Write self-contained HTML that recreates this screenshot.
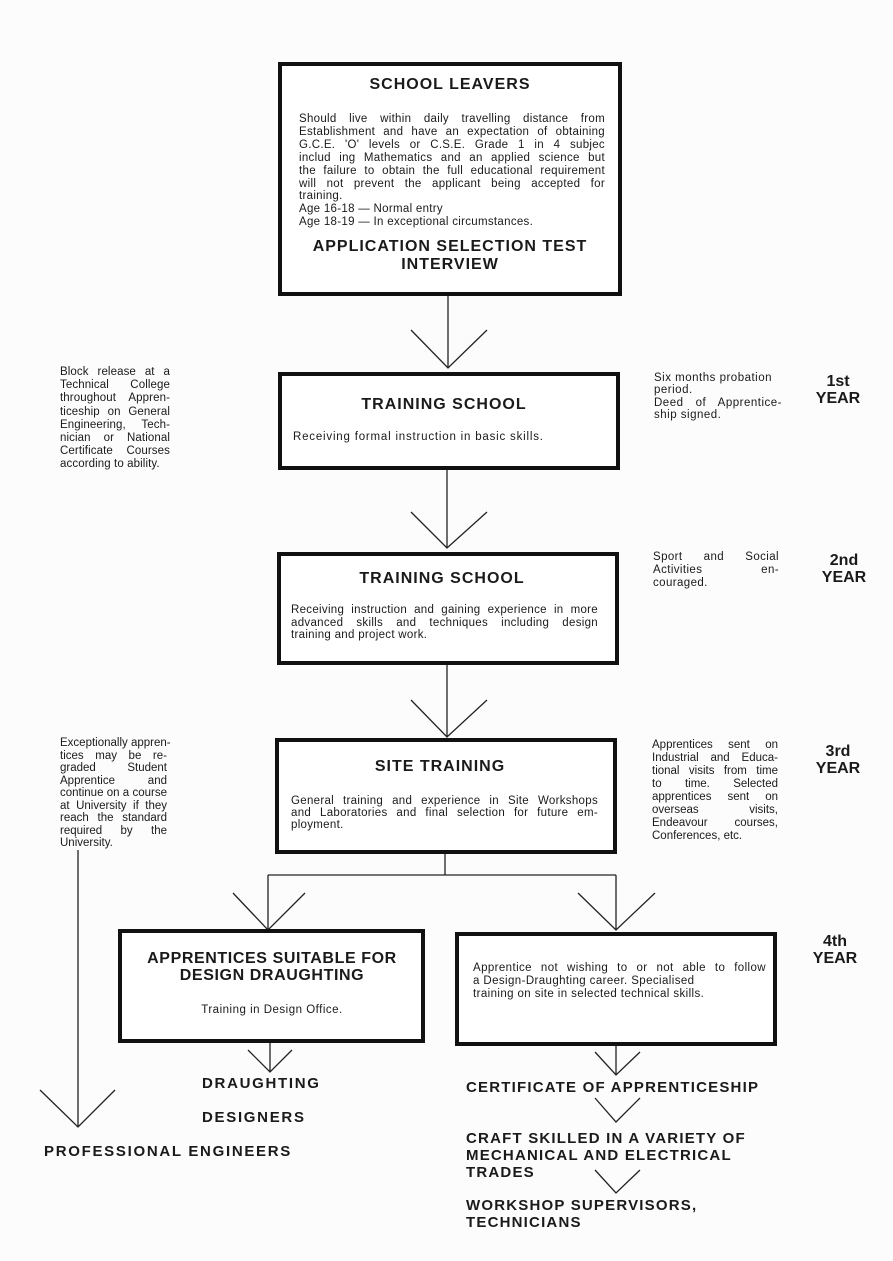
<!DOCTYPE html>
<html><head><meta charset="utf-8"><style>
body{margin:0;background:#fff;}
#p{position:relative;width:893px;height:1261px;background:#fcfcfc;font-family:"Liberation Sans",sans-serif;color:#1a1a1a;overflow:hidden;}
.b{position:absolute;border:4px solid #111;box-sizing:border-box;background:#fff;}
.t{position:absolute;font-size:11.5px;line-height:12.5px;letter-spacing:0.5px;}
.t div{text-align:justify;text-align-last:justify;white-space:nowrap;}
.t div.e{text-align-last:left;}
.h{position:absolute;font-weight:bold;font-size:16px;text-align:center;letter-spacing:1px;}
.y{position:absolute;font-weight:bold;font-size:16px;text-align:center;width:60px;line-height:17px;}
.o{position:absolute;font-weight:bold;font-size:15px;line-height:17px;letter-spacing:1.7px;}
svg{position:absolute;left:0;top:0;}
</style></head><body><div id="p">
<svg width="893" height="1261" fill="none" stroke="#222" stroke-width="1.3">
<line x1="448" y1="295" x2="448" y2="368"/><polyline points="411,330 448,368 487,330"/>
<line x1="447" y1="469" x2="447" y2="548"/><polyline points="411,512 447,548 487,512"/>
<line x1="447" y1="664" x2="447" y2="737"/><polyline points="411,700 447,737 487,700"/>
<line x1="445" y1="853" x2="445" y2="875"/><line x1="268" y1="875" x2="616" y2="875"/>
<line x1="268" y1="875" x2="268" y2="930"/><line x1="616" y1="875" x2="616" y2="930"/>
<polyline points="233,893 268,930 305,893"/><polyline points="578,893 616,930 655,893"/>
<line x1="270" y1="1042" x2="270" y2="1072"/><polyline points="248,1050 270,1072 292,1050"/>
<line x1="78" y1="850" x2="78" y2="1127"/><polyline points="40,1090 78,1127 115,1090"/>
<line x1="616" y1="1045" x2="616" y2="1075"/><polyline points="595,1052 616,1075 640,1052"/>
<polyline points="595,1098 616,1122 640,1098"/><polyline points="595,1170 616,1193 640,1170"/>
</svg>
<div class="b" style="left:278px;top:62px;width:344px;height:234px"></div>
<div class="h" style="left:282px;top:76px;width:336px">SCHOOL LEAVERS</div>
<div class="t" style="left:299px;top:113px;width:306px;line-height:12.9px;letter-spacing:0.3px">
<div>Should live within daily travelling distance from</div>
<div>Establishment and have an expectation of obtaining</div>
<div>G.C.E. 'O' levels or C.S.E. Grade 1 in 4 subjec</div>
<div>includ ing Mathematics and an applied science but</div>
<div>the failure to obtain the full educational requirement</div>
<div>will not prevent the applicant being accepted for</div>
<div class="e">training.</div>
<div class="e">Age 16-18 — Normal entry</div>
<div class="e">Age 18-19 — In exceptional circumstances.</div></div>
<div class="h" style="left:282px;top:238px;width:336px;line-height:18px">APPLICATION SELECTION TEST<br>INTERVIEW</div>

<div class="b" style="left:278px;top:372px;width:342px;height:98px"></div>
<div class="h" style="left:282px;top:396px;width:324px">TRAINING SCHOOL</div>
<div class="t" style="left:293px;top:431px;letter-spacing:0.8px">Receiving formal instruction in basic skills.</div>

<div class="b" style="left:277px;top:552px;width:342px;height:113px"></div>
<div class="h" style="left:282px;top:570px;width:320px">TRAINING SCHOOL</div>
<div class="t" style="left:291px;top:604px;width:307px;letter-spacing:0.3px">
<div>Receiving instruction and gaining experience in more</div>
<div>advanced skills and techniques including design</div>
<div class="e">training and project work.</div></div>

<div class="b" style="left:275px;top:738px;width:342px;height:116px"></div>
<div class="h" style="left:280px;top:758px;width:320px">SITE TRAINING</div>
<div class="t" style="left:291px;top:795px;width:307px;line-height:12px;letter-spacing:0.3px">
<div>General training and experience in Site Workshops</div>
<div>and Laboratories and final selection for future em-</div>
<div class="e">ployment.</div></div>

<div class="b" style="left:118px;top:929px;width:307px;height:114px"></div>
<div class="h" style="left:122px;top:950px;width:300px;line-height:17px;letter-spacing:0.6px">APPRENTICES SUITABLE FOR<br>DESIGN DRAUGHTING</div>
<div class="t" style="left:122px;top:1004px;width:300px;text-align:center">Training in Design Office.</div>

<div class="b" style="left:455px;top:932px;width:322px;height:114px"></div>
<div class="t" style="left:473px;top:962px;width:293px;line-height:13px;letter-spacing:0.4px">
<div>Apprentice not wishing to or not able to follow</div>
<div class="e">a Design-Draughting career. Specialised</div>
<div class="e">training on site in selected technical skills.</div></div>

<div class="t" style="left:60px;top:366px;width:110px;line-height:13.2px;letter-spacing:0.1px">
<div>Block release at a</div><div>Technical College</div><div>throughout Appren-</div><div>ticeship on General</div><div>Engineering, Tech-</div><div>nician or National</div><div>Certificate Courses</div><div class="e">according to ability.</div></div>
<div class="t" style="left:60px;top:737px;width:107px;line-height:12.5px;letter-spacing:0px">
<div>Exceptionally appren-</div><div>tices may be re-</div><div>graded Student</div><div>Apprentice and</div><div>continue on a course</div><div>at University if they</div><div>reach the standard</div><div>required by the</div><div class="e">University.</div></div>

<div class="t" style="left:654px;top:372px;width:128px;line-height:12.3px;letter-spacing:0.5px">
<div class="e">Six months probation</div><div class="e">period.</div><div>Deed of Apprentice-</div><div class="e">ship signed.</div></div>
<div class="t" style="left:653px;top:551px;width:126px;line-height:13px;letter-spacing:0.4px">
<div>Sport and Social</div><div>Activities en-</div><div class="e">couraged.</div></div>
<div class="t" style="left:652px;top:739px;width:126px;line-height:13px;letter-spacing:0px">
<div>Apprentices sent on</div><div>Industrial and Educa-</div><div>tional visits from time</div><div>to time. Selected</div><div>apprentices sent on</div><div>overseas visits,</div><div>Endeavour courses,</div><div class="e">Conferences, etc.</div></div>

<div class="y" style="left:808px;top:373px">1st<br>YEAR</div>
<div class="y" style="left:814px;top:552px">2nd<br>YEAR</div>
<div class="y" style="left:808px;top:743px">3rd<br>YEAR</div>
<div class="y" style="left:805px;top:933px">4th<br>YEAR</div>

<div class="o" style="left:202px;top:1075px">DRAUGHTING</div>
<div class="o" style="left:202px;top:1109px">DESIGNERS</div>
<div class="o" style="left:44px;top:1143px">PROFESSIONAL ENGINEERS</div>
<div class="o" style="left:466px;top:1079px;letter-spacing:1.2px">CERTIFICATE OF APPRENTICESHIP</div>
<div class="o" style="left:466px;top:1130px;letter-spacing:1.2px">CRAFT SKILLED IN A VARIETY OF<br>MECHANICAL AND ELECTRICAL<br>TRADES</div>
<div class="o" style="left:466px;top:1197px;letter-spacing:1.2px">WORKSHOP SUPERVISORS,<br>TECHNICIANS</div>
</div></body></html>
